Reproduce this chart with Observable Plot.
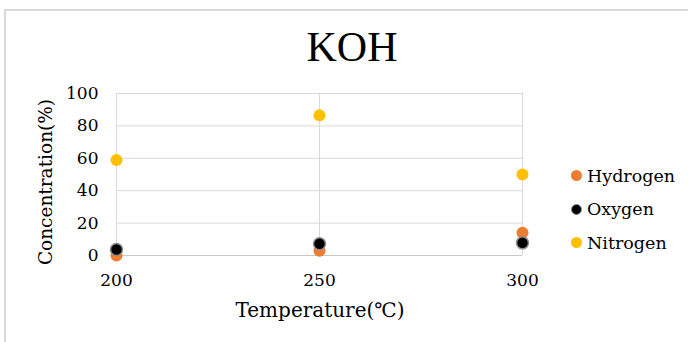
<!DOCTYPE html>
<html>
<head>
<meta charset="utf-8">
<script src="https://cdn.jsdelivr.net/npm/d3@7"></script>
<script src="https://cdn.jsdelivr.net/npm/@observablehq/plot@0.6"></script>
<style>
  html, body { margin: 0; padding: 0; background: #fff; }
  #wrap { position: relative; width: 688px; height: 342px; overflow: hidden; }
  #border { position: absolute; left: 4px; top: 9px; width: 700px; height: 360px; border-left: 2px solid #d9d9d9; border-top: 2px solid #d9d9d9; box-sizing: border-box; }
  #title { position: absolute; left: 352px; top: 26px; transform: translateX(-50%); font-family: "Liberation Serif", serif; font-size: 42px; line-height: 42px; color: #000; white-space: nowrap; }
  #xlabel { position: absolute; left: 320px; top: 300px; transform: translateX(-50%); font-family: "DejaVu Serif", serif; font-size: 20px; line-height: 20px; color: #000; white-space: nowrap; }
  #ylabel { position: absolute; left: 46px; top: 182px; transform: translate(-50%, -50%) rotate(-90deg); font-family: "DejaVu Serif", serif; font-size: 18.5px; line-height: 18px; color: #000; white-space: nowrap; }
  #legend { position: absolute; left: 571px; top: 159px; font-family: "DejaVu Serif", serif; font-size: 17.5px; color: #000; }
  .item { display: flex; align-items: center; height: 33.5px; }
  .sw { width: 11px; height: 11px; border-radius: 50%; margin-right: 5px; box-sizing: border-box; }
  #chart { position: absolute; left: 0; top: 0; }
</style>
</head>
<body>
<div id="wrap">
  <div id="border"></div>
  <div id="chart"></div>
  <div id="title"></div>
  <div id="ylabel"></div>
  <div id="xlabel"></div>
  <div id="legend"></div>
</div>
<script>
const title = "KOH";
const xLabel = "Temperature(℃)";
const yLabel = "Concentration(%)";
const temperatures = [200, 250, 300];
const xTicks = [200, 250, 300];
const yTicks = [0, 20, 40, 60, 80, 100];
const seriesNames = ["Hydrogen", "Oxygen", "Nitrogen"];
const seriesColors = ["#ED7D31", "#000000", "#FFC000"];
const seriesStrokes = ["none", "#8c8c8c", "none"];
const hydrogen = [0, 3, 14];
const oxygen = [3.7, 7.2, 7.8];
const nitrogen = [59, 86.5, 50];

const seriesValues = [hydrogen, oxygen, nitrogen];
const data = [];
seriesNames.forEach((name, i) => {
  temperatures.forEach((t, j) => data.push({series: name, t, v: seriesValues[i][j]}));
});

const plot = Plot.plot({
  width: 688,
  height: 342,
  marginLeft: 116,
  marginRight: 166,
  marginTop: 93,
  marginBottom: 87,
  style: {fontFamily: "DejaVu Serif", fontSize: "17px", color: "#000", background: "transparent"},
  x: {domain: [200, 300], ticks: xTicks, label: null},
  y: {domain: [0, 100], ticks: yTicks, label: null},
  color: {domain: seriesNames, range: seriesColors},
  marks: [
    Plot.gridY(yTicks, {stroke: "#d9d9d9", strokeOpacity: 1, strokeWidth: 1}),
    Plot.gridX(xTicks, {stroke: "#d9d9d9", strokeOpacity: 1, strokeWidth: 1}),
    Plot.ruleY([0], {stroke: "#c8c8c8", strokeWidth: 1}),
    Plot.axisY(yTicks, {tickSize: 0, tickPadding: 18, fontSize: 17, label: null, fill: "#000"}),
    Plot.axisX(xTicks, {tickSize: 0, tickPadding: 18, fontSize: 17, label: null, fill: "#000", tickFormat: d => String(d)}),
    Plot.dot(data, {x: "t", y: "v", r: 6, fill: "series",
      stroke: d => seriesStrokes[seriesNames.indexOf(d.series)],
      strokeWidth: 1.5})
  ]
});
document.getElementById("chart").appendChild(plot);
document.getElementById("title").textContent = title;
document.getElementById("xlabel").textContent = xLabel;
document.getElementById("ylabel").textContent = yLabel;
const lg = document.getElementById("legend");
seriesNames.forEach((n, i) => {
  const it = document.createElement("div");
  it.className = "item";
  const sw = document.createElement("span");
  sw.className = "sw";
  sw.style.background = seriesColors[i];
  if (seriesStrokes[i] !== "none") sw.style.border = "1.5px solid " + seriesStrokes[i];
  const tx = document.createElement("span");
  tx.textContent = n;
  it.appendChild(sw); it.appendChild(tx);
  lg.appendChild(it);
});
</script>
</body>
</html>
